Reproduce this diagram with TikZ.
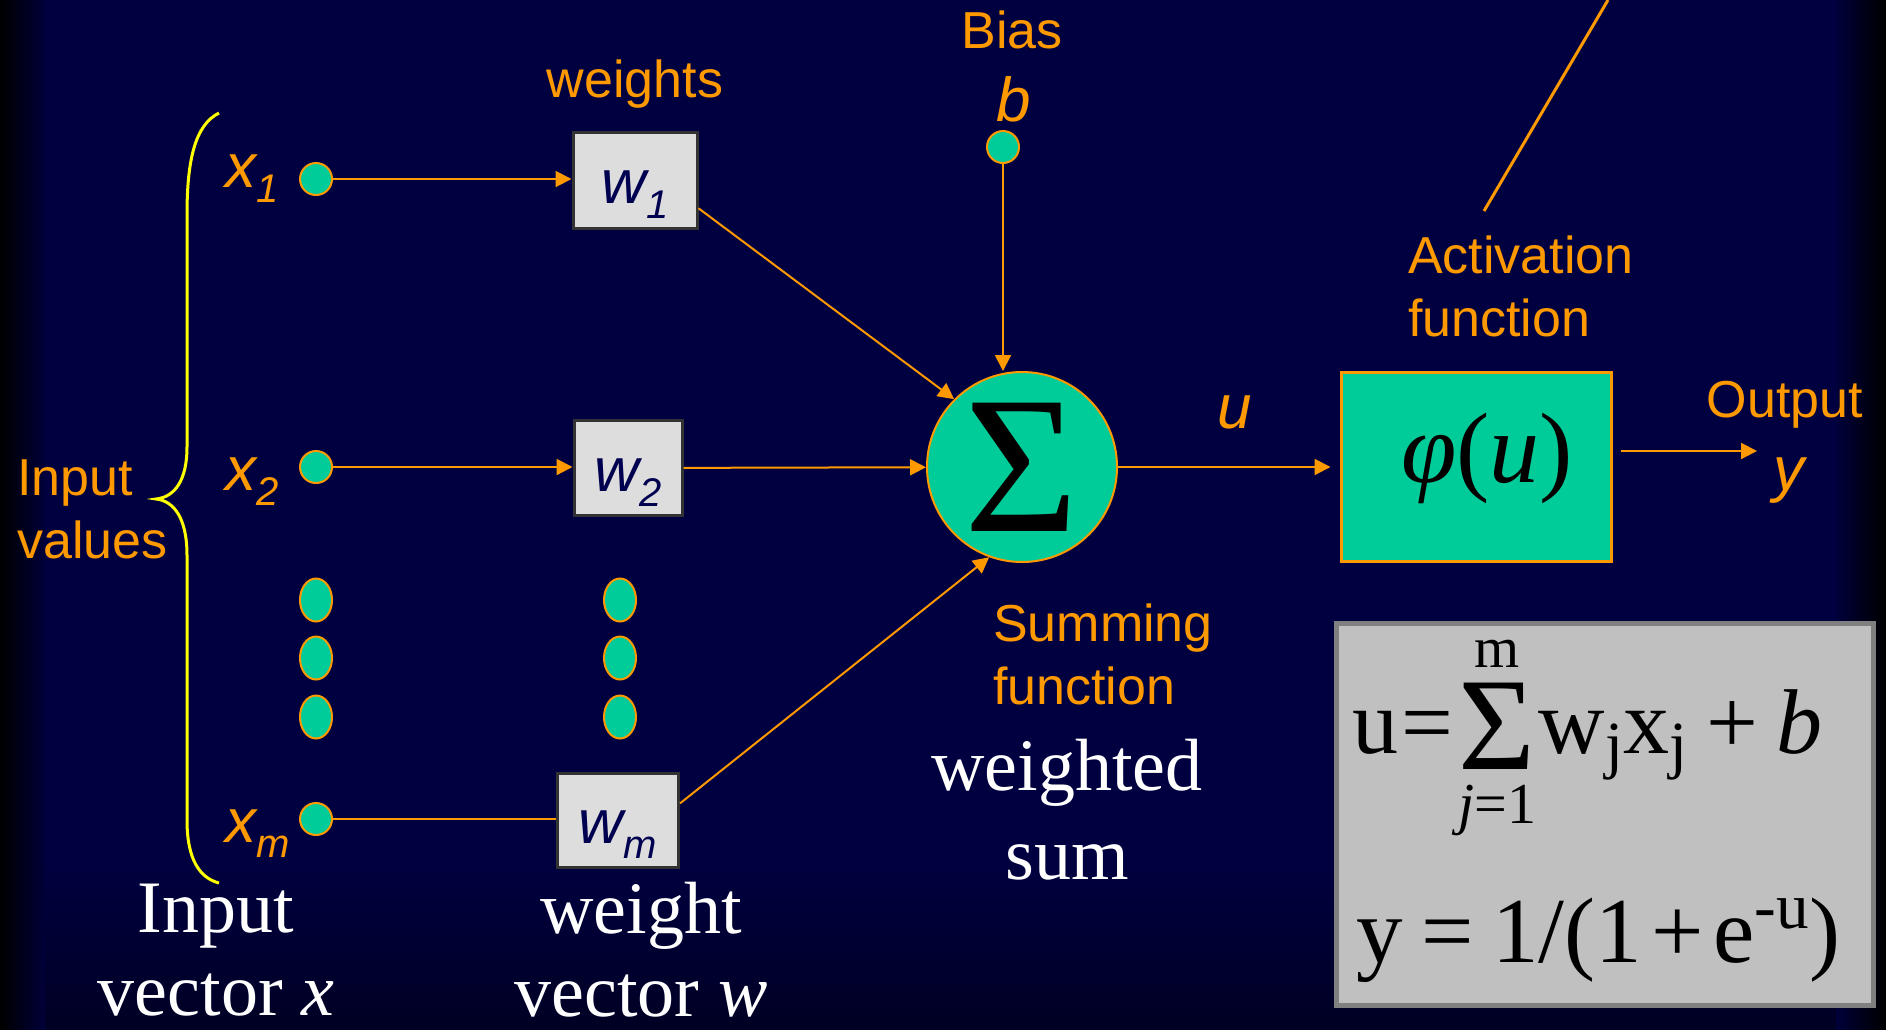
\documentclass[tikz,border=0pt]{standalone}
\usepackage{fix-cm}
\usepackage{amsmath}
\usepackage{fontspec}
\setmainfont{Liberation Serif}
\setsansfont{Liberation Sans}
\usepackage{tikz}
\usetikzlibrary{shapes.geometric, arrows.meta, positioning, calc}
\usepackage{xcolor}
\definecolor{slidenavy}{RGB}{0,0,64}
\definecolor{slidedeep}{RGB}{0,0,36}
\definecolor{accentorange}{RGB}{255,153,0}
\definecolor{neurongreen}{RGB}{0,204,153}
\definecolor{weightgray}{RGB}{221,221,221}
\definecolor{weightedge}{RGB}{51,51,51}
\definecolor{formulagray}{RGB}{192,192,192}
\definecolor{formulaedge}{RGB}{128,128,128}
\definecolor{braceyellow}{RGB}{255,255,0}
\definecolor{weightink}{RGB}{0,0,80}
\newcommand{\orangesans}{\sffamily\fontsize{52}{63}\selectfont}
\newcommand{\varsans}{\sffamily\itshape\fontsize{62}{62}\selectfont}
\newcommand{\whiteserif}{\rmfamily\fontsize{74}{89}\selectfont}
\newcommand{\sublow}[1]{\raisebox{-15pt}{\fontsize{40}{40}\selectfont #1}}
\newcommand{\limfont}{\fontsize{58}{58}\selectfont}
\tikzset{
  inputdot/.style={circle, draw=accentorange, line width=2pt, fill=neurongreen, minimum size=32pt, inner sep=0pt},
  gapdot/.style={ellipse, draw=accentorange, line width=2pt, fill=neurongreen, minimum width=32pt, minimum height=43pt, inner sep=0pt},
  weightbox/.style={rectangle, draw=weightedge, line width=3pt, fill=weightgray, text=weightink, font=\varsans,
    inner sep=0pt, text height=61pt, text depth=15pt},
  sumnode/.style={circle, draw=accentorange, line width=2pt, fill=neurongreen, minimum size=190pt, inner sep=0pt,
    font=\rmfamily\fontsize{196}{196}\selectfont},
  actbox/.style={rectangle, draw=accentorange, line width=3pt, fill=neurongreen, minimum width=270pt, minimum height=189pt,
    inner sep=0pt, font=\rmfamily\itshape\fontsize{100}{100}\selectfont, text height=69pt, text depth=39pt},
  formulabox/.style={rectangle, draw=formulaedge, line width=5pt, fill=formulagray, minimum width=537pt, minimum height=382pt},
  eqlabel/.style={text=black, font=\rmfamily\fontsize{92}{92}\selectfont, inner sep=0pt},
  orangelabel/.style={text=accentorange, font=\orangesans, align=left, inner sep=0pt},
  varlabel/.style={text=accentorange, font=\varsans, inner sep=0pt},
  whitelabel/.style={text=white, font=\whiteserif, align=center, inner sep=0pt},
  flow/.style={-{Triangle[length=16pt,width=16pt]}, line width=2pt, color=accentorange},
  plainflow/.style={line width=2pt, color=accentorange},
  bracepath/.style={line width=3pt, color=braceyellow}
}

\begin{document}
\begin{tikzpicture}[x=1pt, y=-1pt]
  \useasboundingbox (0,0) rectangle (1886,1029);
  \fill[slidenavy] (0,0) rectangle (1886,1029);
  \fill[top color=slidenavy, bottom color=slidedeep] (0,860) rectangle (1886,1029);
  \fill[left color=black, right color=slidenavy, opacity=0.9] (0,0) rectangle (45,1029);
  \fill[left color=slidenavy, right color=black, opacity=0.9] (1836,0) rectangle (1886,1029);

  \node[inputdot] (x1dot) at (316,179) {};
  \node[inputdot] (x2dot) at (316,467) {};
  \node[inputdot] (xmdot) at (316,819) {};
  \foreach \yy/\nm in {600/a, 658/b, 717/c} {
    \node[gapdot] (xgap\nm) at (316,\yy) {};
    \node[gapdot] (wgap\nm) at (620,\yy) {};
  }

  \node[weightbox, minimum width=124pt, minimum height=96pt] (w1) at (635,180) {w\sublow{1}};
  \node[weightbox, minimum width=108pt, minimum height=95pt] (w2) at (628,468) {w\sublow{2}};
  \node[weightbox, minimum width=121pt, minimum height=94pt] (wm) at (618,820) {w\sublow{m}};
  \node[orangelabel, anchor=base] (weightslbl) at (635,97) {weights};

  \node[varlabel, anchor=base west] (x1lbl) at (225,187) {x\sublow{1}};
  \node[varlabel, anchor=base west] (x2lbl) at (225,490) {x\sublow{2}};
  \node[varlabel, anchor=base west] (xmlbl) at (225,842) {x\sublow{m}};
  \node[orangelabel, anchor=north west] (inputlbl) at (17,460) {Input\\values};
  \draw[bracepath] (219,113) .. controls (195,125) and (187,160) .. (187,215) -- (187,447)
    .. controls (187,480) and (175,497) .. (156,499)
    .. controls (175,501) and (187,520) .. (187,555) -- (187,820)
    .. controls (187,860) and (200,878) .. (219,883);

  \node[inputdot] (biasdot) at (1003,147) {};
  \node[varlabel, above=8pt of biasdot, xshift=11pt] (blbl) {b};
  \node[orangelabel, anchor=base] (biaslbl) at (1012,48) {Bias};

  \node[sumnode] (sum) at (1022,467) {Σ};
  \node[orangelabel, anchor=north west] (summinglbl) at (993,604) {Summing\\function};
  \node[varlabel, anchor=base] (ulbl) at (1235,428) {u};

  \node[actbox] (act) at (1476,467) {\hspace*{22pt}φ\textup{(}u\textup{)}};
  \node[orangelabel, anchor=north west] (actlbl) at (1408,236) {Activation\\function};
  \coordinate (actfoot) at (1484,211);
  \coordinate (acttop) at (1608,0);
  \node[orangelabel, anchor=base] (outlbl) at (1785,417) {Output};
  \node[varlabel, anchor=base] (ylbl) at (1789,490) {y};
  \coordinate (outend) at (1757,451);

  \node[formulabox] (formula) at (1605,814) {};
  \node[eqlabel, anchor=base west] (eqsum) at (1352,753)
    {u\hspace{0.04em}=\hspace{0.05em}$\displaystyle\mathop{\raisebox{-16pt}{\fontsize{132}{132}\selectfont Σ}}\limits_{\text{\limfont\rule{0pt}{50pt}\textit{j}=1}}^{\text{\limfont m\rule[-12pt]{0pt}{12pt}}}$\hspace{0.03em}w\textsubscript{j}x\textsubscript{j}\hspace{0.2em}+\hspace{0.2em}\textit{b}};
  \node[eqlabel, anchor=base west, font=\rmfamily\fontsize{93}{93}\selectfont] (eqsig) at (1356,962)
    {y\hspace{0.2em}=\hspace{0.2em}1/(1\hspace{0.1em}+\hspace{0.1em}e\textsuperscript{-u})};

  \node[whitelabel, anchor=north] (xveclbl) at (216,884) {Input\\[-6pt]vector \textit{x}};
  \node[whitelabel, anchor=north] (wveclbl) at (641,882) {weight\\[-6pt]vector \textit{w}};
  \node[whitelabel, anchor=north] (sumlbl) at (1067,739) {weighted\\sum};

  \draw[flow] (x1dot) -- (x1dot -| w1.west);
  \draw[flow] (x2dot) -- (x2dot -| w2.west);
  \draw[plainflow] (xmdot) -- (xmdot -| wm.west);
  \draw[flow] (w1.-24) -- (sum.135);
  \draw[flow] (w2) -- (sum);
  \draw[flow] (wm.15) -- (sum.250);
  \draw[flow] (biasdot) -- (biasdot |- sum.north);
  \draw[flow, shorten >=9pt] (sum) -- (act);
  \draw[flow] ([xshift=8pt,yshift=16pt]act.east) -- (outend);
  \draw[plainflow, line width=3pt] (actfoot) -- (acttop);
\end{tikzpicture}
\end{document}
